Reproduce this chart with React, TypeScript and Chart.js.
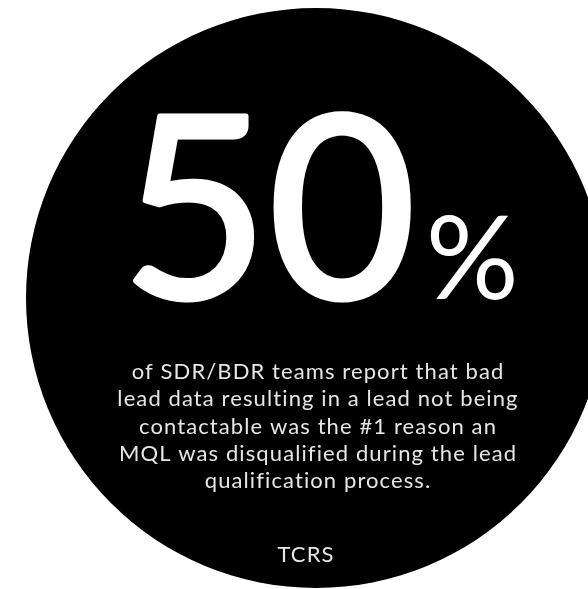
import React, { useEffect, useRef } from "react";
import { Chart, registerables } from "chart.js";

Chart.register(...registerables);

// ---- data ----
const categories = ["SDR/BDR teams"];
const values = [100];
const headline = "50";
const headlineUnit = "%";
const bodyLines = [
  "of SDR/BDR teams report that bad",
  "lead data resulting in a lead not being",
  "contactable was the #1 reason an",
  "MQL was disqualified during the lead",
  "qualification process.",
];
const sourceLabel = "TCRS";

const FONT = "Lato, 'Open Sans', sans-serif";

const textPlugin = {
  id: "statText",
  afterDraw(chart: any) {
    const ctx = chart.ctx as any;
    ctx.save();
    ctx.textBaseline = "alphabetic";
    ctx.fillStyle = "#ffffff";
    ctx.strokeStyle = "#ffffff";
    ctx.lineJoin = "round";
    // headline
    ctx.textAlign = "left";
    ctx.letterSpacing = "0px";
    ctx.font = `400 254px ${FONT}`;
    const w50 = ctx.measureText(headline).width;
    ctx.font = `400 116px ${FONT}`;
    const wPct = ctx.measureText(headlineUnit).width;
    const gap = 10;
    const total = w50 + gap + wPct;
    const x0 = 320 - total / 2;
    ctx.font = `400 254px ${FONT}`;
    ctx.lineWidth = 5;
    ctx.fillText(headline, x0, 298);
    ctx.strokeText(headline, x0, 298);
    ctx.font = `400 116px ${FONT}`;
    ctx.fillText(headlineUnit, x0 + w50 + gap, 299);

    // body
    ctx.fillStyle = "#e6e6e6";
    ctx.textAlign = "center";
    ctx.font = `400 22px ${FONT}`;
    ctx.letterSpacing = "1.1px";
    bodyLines.forEach((line, i) => {
      ctx.fillText(line, 318, 379 + i * 27.3);
    });
    ctx.fillText(sourceLabel, 306, 562);
    ctx.restore();
  },
};

export default function App() {
  const ref = useRef<HTMLCanvasElement | null>(null);
  useEffect(() => {
    if (!ref.current) return;
    const chart = new Chart(ref.current, {
      type: "pie",
      data: {
        labels: categories,
        datasets: [
          {
            data: values,
            backgroundColor: ["#000000"],
            borderWidth: 0,
          },
        ],
      },
      options: {
        animation: false,
        responsive: true,
        maintainAspectRatio: false,
        layout: { padding: { left: 26, top: 8, right: 14, bottom: 8 } },
        plugins: {
          legend: { display: false },
          tooltip: { enabled: false },
          title: { display: false },
        },
        events: [],
      },
      plugins: [textPlugin],
    });
    return () => chart.destroy();
  }, []);
  return (
    <div
      style={{
        position: "fixed",
        left: 0,
        top: 0,
        width: 588,
        height: 589,
        overflow: "hidden",
        background: "#ffffff",
      }}
    >
      <div style={{ position: "absolute", left: 0, top: 0, width: 620, height: 596 }}>
        <canvas ref={ref} />
      </div>
    </div>
  );
}
